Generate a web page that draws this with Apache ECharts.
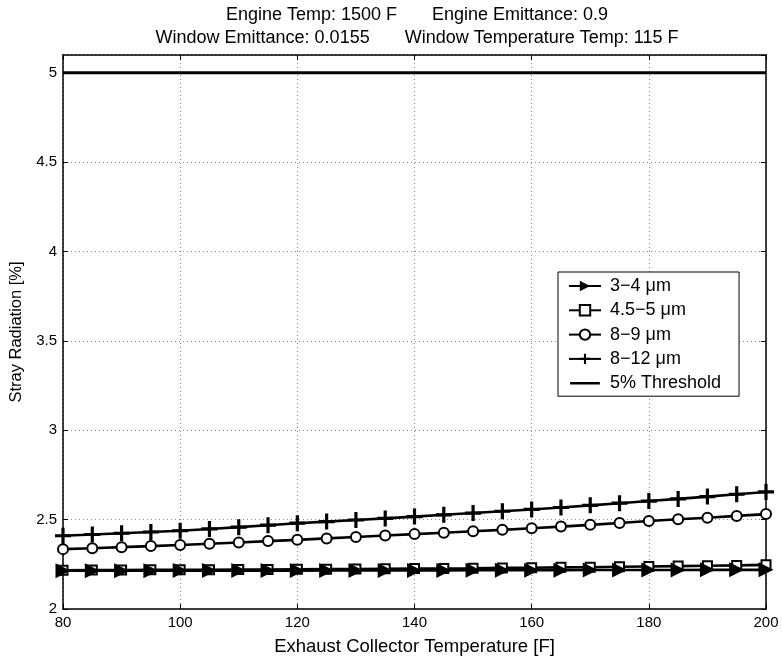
<!DOCTYPE html>
<html>
<head>
<meta charset="utf-8">
<script src="https://cdn.jsdelivr.net/npm/echarts@6/dist/echarts.min.js"></script>
<style>
  html, body { margin: 0; padding: 0; background: #fff; }
  #chart { width: 782px; height: 661px; }
</style>
</head>
<body>
<div id="chart"></div>
<script>
// Exhaust collector temperature [F]
const temps = [80, 85, 90, 95, 100, 105, 110, 115, 120, 125, 130, 135, 140,
               145, 150, 155, 160, 165, 170, 175, 180, 185, 190, 195, 200];

// Stray radiation [%] per spectral band
const band3to4 = [2.214, 2.214, 2.214, 2.214, 2.215, 2.215, 2.215, 2.215, 2.215, 2.216, 2.216, 2.216, 2.216,
                  2.216, 2.217, 2.217, 2.217, 2.217, 2.218, 2.218, 2.218, 2.218, 2.219, 2.219, 2.219];
const band45to5 = [2.217, 2.218, 2.218, 2.219, 2.219, 2.220, 2.221, 2.221, 2.222, 2.223, 2.224, 2.225, 2.226,
                   2.227, 2.228, 2.230, 2.231, 2.233, 2.234, 2.236, 2.238, 2.240, 2.242, 2.244, 2.247];
const band8to9 = [2.335, 2.340, 2.346, 2.352, 2.358, 2.365, 2.372, 2.380, 2.387, 2.395, 2.403, 2.411, 2.419,
                  2.427, 2.435, 2.443, 2.452, 2.461, 2.471, 2.481, 2.492, 2.502, 2.511, 2.521, 2.531];
const band8to12 = [2.410, 2.417, 2.424, 2.431, 2.438, 2.448, 2.458, 2.469, 2.480, 2.489, 2.498, 2.507, 2.517,
                   2.527, 2.537, 2.547, 2.557, 2.568, 2.580, 2.592, 2.604, 2.616, 2.629, 2.642, 2.655];
const thresholdX = [80, 200];
const thresholdY = [5, 5];

const seriesNames = ['3\u22124 \u03bcm', '4.5\u22125 \u03bcm', '8\u22129 \u03bcm', '8\u221212 \u03bcm', '5% Threshold'];
const titleLines = ['Engine Temp: 1500 F       Engine Emittance: 0.9',
                    'Window Emittance: 0.0155       Window Temperature Temp: 115 F'];

const FONT = 'Liberation Sans, Arial, Helvetica, sans-serif';
const pair = (xs, ys) => xs.map((x, i) => [x, ys[i]]);

const triangleRight = 'path://M0,0 L12,6 L0,12 Z';
const plusMark = 'path://M6,0 H9 V6 H15 V9 H9 V15 H6 V9 H0 V6 H6 Z';
// plain line legend icon, padded so it keeps its thickness inside the icon box
const lineIcon = 'path://M0,0 L0.01,0 M0,5.6 L32,5.6 L32,8.4 L0,8.4 Z M32,14 L31.99,14';

function bandSeries(name, values, symbol, size, border) {
  return {
    name: name,
    type: 'line',
    xAxisIndex: 0, yAxisIndex: 0,
    data: pair(temps, values),
    symbol: symbol,
    symbolSize: size,
    showAllSymbol: true,
    lineStyle: { color: '#000', width: 2.6 },
    itemStyle: { color: '#000', borderColor: '#000', borderWidth: border },
    emphasis: { disabled: true },
    animation: false
  };
}

const chart = echarts.init(document.getElementById('chart'), null, { renderer: 'canvas' });

const gridSplit = { show: true, lineStyle: { color: '#8a8a8a', type: [1, 3], width: 1 } };

chart.setOption({
  backgroundColor: '#fff',
  animation: false,
  textStyle: { fontFamily: FONT },
  title: {
    text: titleLines.join('\n'),
    left: 412, textAlign: 'center', top: -1,
    textStyle: { fontFamily: FONT, fontSize: 18, fontWeight: 'normal', color: '#000', lineHeight: 23 }
  },
  grid: { left: 61, right: 16, top: 55, bottom: 51, containLabel: false, show: false },
  legend: {
    data: seriesNames.slice(0, 4).map(n => ({ name: n })).concat([{ name: seriesNames[4], icon: lineIcon }]),
    orient: 'vertical',
    left: 558, top: 272,
    padding: [5, 18, 4, 10],
    itemWidth: 32, itemHeight: 13, itemGap: 6.3,
    backgroundColor: '#fff',
    borderColor: '#000', borderWidth: 1,
    textStyle: { fontFamily: FONT, fontSize: 18, color: '#000', lineHeight: 18, padding: [0, 0, 0, 4] },
    selectedMode: false
  },
  xAxis: [{
    type: 'value', min: 80, max: 200, interval: 20, position: 'bottom',
    name: 'Exhaust Collector Temperature [F]', nameLocation: 'middle', nameGap: 28,
    nameTextStyle: { fontFamily: FONT, fontSize: 18.5, color: '#000' },
    axisLine: { show: true, onZero: false, lineStyle: { color: '#000', width: 1.5 } },
    axisTick: { show: true, inside: true, length: 5, lineStyle: { color: '#000' } },
    axisLabel: { fontFamily: FONT, fontSize: 15, color: '#000', margin: 6 },
    splitLine: gridSplit
  }, {
    type: 'value', min: 80, max: 200, interval: 20, position: 'top',
    axisLine: { show: true, onZero: false, lineStyle: { color: '#000', width: 1.5 } },
    axisTick: { show: true, inside: true, length: 5, lineStyle: { color: '#000' } },
    axisLabel: { show: false }, splitLine: { show: false }
  }],
  yAxis: [{
    type: 'value', min: 2, max: 5.1, interval: 0.5, position: 'left',
    name: 'Stray Radiation [%]', nameLocation: 'middle', nameGap: 38,
    nameTextStyle: { fontFamily: FONT, fontSize: 16.5, color: '#000' },
    axisLine: { show: true, onZero: false, lineStyle: { color: '#000', width: 1.5 } },
    axisTick: { show: true, inside: true, length: 5, lineStyle: { color: '#000' } },
    axisLabel: {
      fontFamily: FONT, fontSize: 15, color: '#000', margin: 6, showMaxLabel: false,
      formatter: v => (Math.abs(v * 2 - Math.round(v * 2)) < 1e-6 ? String(v) : '')
    },
    splitLine: gridSplit
  }, {
    type: 'value', min: 2, max: 5.1, interval: 0.5, position: 'right',
    axisLine: { show: true, onZero: false, lineStyle: { color: '#000', width: 1.5 } },
    axisTick: { show: true, inside: true, length: 5, lineStyle: { color: '#000' } },
    axisLabel: { show: false }, splitLine: { show: false }
  }],
  // squares sit underneath the triangles, which are drawn on top of them
  series: [
    bandSeries(seriesNames[1], band45to5, 'emptyRect', 9, 3),
    bandSeries(seriesNames[0], band3to4, triangleRight, 15, 0),
    bandSeries(seriesNames[2], band8to9, 'emptyCircle', 10, 2.4),
    bandSeries(seriesNames[3], band8to12, plusMark, 16, 0),
    {
      name: seriesNames[4],
      type: 'line',
      data: pair(thresholdX, thresholdY),
      symbol: 'none',
      lineStyle: { color: '#000', width: 3 },
      itemStyle: { color: '#000' },
      emphasis: { disabled: true },
      animation: false
    }
  ]
});
</script>
</body>
</html>
